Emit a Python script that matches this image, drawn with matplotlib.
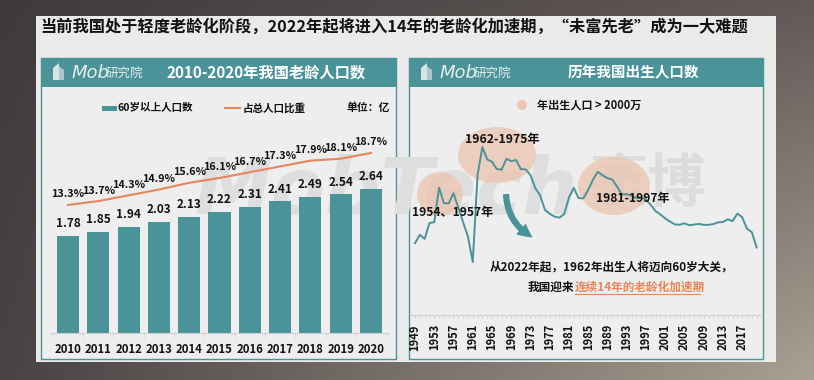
import numpy as np
import matplotlib
matplotlib.use("Agg")
import matplotlib.pyplot as plt
from matplotlib.patches import Rectangle, Ellipse, FancyArrowPatch, Polygon
from matplotlib.ticker import FixedLocator, NullFormatter

plt.rcParams['font.family'] = ['Noto Sans CJK SC', 'DejaVu Sans']

# ---------------- data ----------------
title_text = "当前我国处于轻度老龄化阶段，2022年起将进入14年的老龄化加速期，“未富先老”成为一大难题"
left_title = "2010-2020年我国老龄人口数"
right_title = "历年我国出生人口数"

elderly_years = ["2010", "2011", "2012", "2013", "2014", "2015", "2016", "2017", "2018", "2019", "2020"]
elderly_pop = [1.78, 1.85, 1.94, 2.03, 2.13, 2.22, 2.31, 2.41, 2.49, 2.54, 2.64]  # 亿
elderly_share = [13.3, 13.7, 14.3, 14.9, 15.6, 16.1, 16.7, 17.3, 17.9, 18.1, 18.7]  # %

birth_years = list(range(1949, 2021))
births = [1275, 1419, 1349, 1622, 1637, 2232, 1965, 1961, 2138, 1889,
          1635, 1389, 949, 2451, 2934, 2721, 2679, 2554, 2543, 2731,
          2690, 2710, 2551, 2550, 2447, 2226, 2102, 1849, 1783, 1733,
          1715, 1776, 2064, 2230, 2052, 2050, 2196, 2374, 2508, 2445,
          2396, 2374, 2250, 2113, 2120, 2098, 2052, 2057, 2028, 1934,
          1827, 1771, 1702, 1647, 1599, 1593, 1617, 1585, 1595, 1608,
          1591, 1592, 1604, 1635, 1640, 1687, 1655, 1786, 1723, 1523,
          1465, 1200]  # 万
birth_tick_years = [1949, 1953, 1957, 1961, 1965, 1969, 1973, 1977, 1981,
                    1985, 1989, 1993, 1997, 2001, 2005, 2009, 2013, 2017]

TEAL = "#4a9398"
ORANGE = "#e5865c"
PEACH = "#ecc6b2"
W, H = 814, 380

fig = plt.figure(figsize=(W / 100, H / 100), dpi=100)


def rect_px(l, t, r, b):
    return [l / W, 1 - b / H, (r - l) / W, (b - t) / H]


# ---------------- background ----------------
bg = fig.add_axes([0, 0, 1, 1], zorder=0)
bg.set_xlim(0, W)
bg.set_ylim(H, 0)
bg.axis("off")
tl = np.array([0x40, 0x3a, 0x3c]) / 255
tr = np.array([0x62, 0x5a, 0x58]) / 255
bl = np.array([0x48, 0x43, 0x44]) / 255
br = np.array([0xa8, 0xa0, 0x92]) / 255
gy, gx = np.mgrid[0:1:40j, 0:1:80j]
grad = (tl[None, None] * ((1 - gx) * (1 - gy))[..., None] + tr[None, None] * (gx * (1 - gy))[..., None]
        + bl[None, None] * ((1 - gx) * gy)[..., None] + br[None, None] * (gx * gy)[..., None])
bg.imshow(grad, extent=(0, W, H, 0), aspect="auto", interpolation="bicubic", zorder=0)

bg.add_patch(Rectangle((36, 16), 740, 346, facecolor="#eaeaea", edgecolor="none", zorder=1))
for (l, r) in [(41, 396), (409, 763)]:
    bg.add_patch(Rectangle((l, 58), r - l, 301, facecolor="#eeeeee", edgecolor=TEAL, lw=1.0, zorder=2))
    bg.add_patch(Rectangle((l, 58), r - l, 29, facecolor=TEAL, edgecolor="none", zorder=3))
    # logo
    bg.add_patch(Polygon([(l + 12, 80), (l + 12, 68), (l + 18, 63), (l + 18, 80)], closed=True,
                         facecolor="#d7e3e4", edgecolor="none", zorder=4))
    bg.add_patch(Polygon([(l + 18, 80), (l + 18, 66), (l + 23, 70), (l + 23, 80)], closed=True,
                         facecolor="#aac7c9", edgecolor="none", zorder=4))
    bg.text(l + 31, 73, "Mob", family=["DejaVu Sans"], style="italic", fontsize=13,
            color="#e6eeee", va="center", ha="left", zorder=5)
    bg.text(l + 65, 73.5, "研究院", fontsize=9, color="#e6eeee", va="center", ha="left", zorder=5)

bg.text(40, 26, title_text, fontsize=11.7, fontweight="bold", color="#111111",
        va="center", ha="left", zorder=5)
bg.text(266, 72.5, left_title, fontsize=11, fontweight="bold", color="white", va="center", ha="center", zorder=5)
bg.text(633, 72.5, right_title, fontsize=10.5, fontweight="bold", color="white", va="center", ha="center", zorder=5)

# watermark
bg.text(578, 214, "MobTech", family=["DejaVu Sans"], fontsize=56, fontweight="bold", style="italic",
        color="#dedede", ha="right", va="baseline", zorder=2.5)
bg.text(590, 202, "袤博", fontsize=42, fontweight="bold", color="#dcdcdc", ha="left", va="baseline", zorder=2.5)

# highlight blobs for >2000万 periods
bg.add_patch(Ellipse((497, 155), 78, 56, facecolor=PEACH, edgecolor="none", alpha=0.8, zorder=2.6))
bg.add_patch(Ellipse((440, 194), 46, 44, facecolor=PEACH, edgecolor="none", alpha=0.8, zorder=2.6))
bg.add_patch(Ellipse((614, 186), 72, 58, facecolor=PEACH, edgecolor="none", alpha=0.8, zorder=2.6))

# ---------------- left chart ----------------
ax1 = fig.add_axes(rect_px(50, 100, 389, 333), zorder=2)
ax1.patch.set_alpha(0)
x = np.arange(len(elderly_years))
ax1.bar(x, elderly_pop, width=0.73, color=TEAL, zorder=2)
ax1.set_xlim(-0.594, 10.594)
ax1.set_ylim(0, 4.26)
for s in ["top", "left", "right"]:
    ax1.spines[s].set_visible(False)
ax1.spines["bottom"].set_color("#cfcfcf")
ax1.set_yticks([])
ax1.set_xticks(x)
ax1.set_xticklabels(elderly_years, fontsize=8.2, fontweight="bold", color="#111111")
ax1.tick_params(axis="x", which="major", length=0, pad=7)
ax1.xaxis.set_minor_locator(FixedLocator(np.arange(-0.5, 11, 1)))
ax1.tick_params(axis="x", which="minor", length=3, color="#cfcfcf")
for xi, v in zip(x, elderly_pop):
    ax1.annotate(f"{v:.2f}", (xi, v), xytext=(0, 4), textcoords="offset points",
                 ha="center", va="bottom", fontsize=8.5, fontweight="bold", color="#111111")

ax1b = ax1.twinx()
ax1b.patch.set_alpha(0)
ax1b.set_ylim(0, 24.2)
ax1b.plot(x, elderly_share, color=ORANGE, lw=1.5, zorder=3)
ax1b.axis("off")
for xi, v in zip(x, elderly_share):
    ax1b.annotate(f"{v:.1f}%", (xi, v), xytext=(0, 4), textcoords="offset points",
                  ha="center", va="bottom", fontsize=7.8, fontweight="bold", color="#111111")

# legend (left)
bg.add_patch(Rectangle((102, 105.5), 15, 5, facecolor=TEAL, edgecolor="none", zorder=5))
bg.text(118, 108, "60岁以上人口数", fontsize=7.6, fontweight="bold", color="#111111", va="center", ha="left", zorder=5)
bg.plot([225, 240], [108, 108], color=ORANGE, lw=1.5, zorder=5)
bg.text(243, 108, "占总人口比重", fontsize=7.6, fontweight="bold", color="#111111", va="center", ha="left", zorder=5)
bg.text(390, 108, "单位：亿", fontsize=7.8, fontweight="bold", color="#111111", va="center", ha="right", zorder=5)

# ---------------- right chart ----------------
ax2 = fig.add_axes(rect_px(410, 100, 760, 315), zorder=2)
ax2.patch.set_alpha(0)
ax2.plot(birth_years, births, color=TEAL, lw=1.4)
ax2.set_xlim(1947.96, 2020.7)
ax2.set_ylim(35, 3746)
for s in ["top", "left", "right"]:
    ax2.spines[s].set_visible(False)
ax2.spines["bottom"].set_color("#d0d0d0")
ax2.set_yticks([])
ax2.set_xticks(birth_tick_years)
ax2.set_xticklabels([str(y) for y in birth_tick_years], rotation=90, fontsize=8,
                    fontweight="bold", color="#111111")
ax2.tick_params(axis="x", which="major", length=2.5, color="#d0d0d0", pad=4)
ax2.xaxis.set_minor_locator(FixedLocator(birth_years))
ax2.xaxis.set_minor_formatter(NullFormatter())
ax2.tick_params(axis="x", which="minor", length=2.5, color="#d0d0d0")

ax2.text(1959.4, 2960, "1962-1975年", fontsize=8.8, fontweight="bold", color="#111111", ha="left", va="bottom")
ax2.text(1948.3, 1810, "1954、1957年", fontsize=8.7, fontweight="bold", color="#111111", ha="left", va="center")
ax2.text(1986.6, 2040, "1981-1997年", fontsize=8.7, fontweight="bold", color="#111111", ha="left", va="center")

# legend (right)
bg.add_patch(Ellipse((522, 105), 10, 10, facecolor=PEACH, edgecolor="none", zorder=5))
bg.text(537, 105, "年出生人口 > 2000万", fontsize=8, fontweight="bold", color="#111111", va="center", ha="left", zorder=5)

# arrow + note
arr = FancyArrowPatch((506, 192), (534, 238), connectionstyle="arc3,rad=0.3",
                      arrowstyle="simple,head_length=9,head_width=9,tail_width=3.5",
                      color=TEAL, zorder=6)
bg.add_artist(arr)
fig.text(612 / W, 1 - 267 / H, "从2022年起，1962年出生人将迈向60岁大关，", fontsize=8.4, fontweight="bold",
         color="#111111", ha="center", va="center", zorder=6)
fig.text(574 / W, 1 - 287 / H, "我国迎来", fontsize=8.4, fontweight="bold", color="#111111",
         ha="right", va="center", zorder=6)
fig.text(575 / W, 1 - 287 / H, "连续14年的老龄化加速期", fontsize=8.4, fontweight="bold", color=ORANGE,
         ha="left", va="center", zorder=6)
bg.plot([575, 700], [294, 294], color=ORANGE, lw=0.8, zorder=6)

fig.savefig("out.png", dpi=100)
